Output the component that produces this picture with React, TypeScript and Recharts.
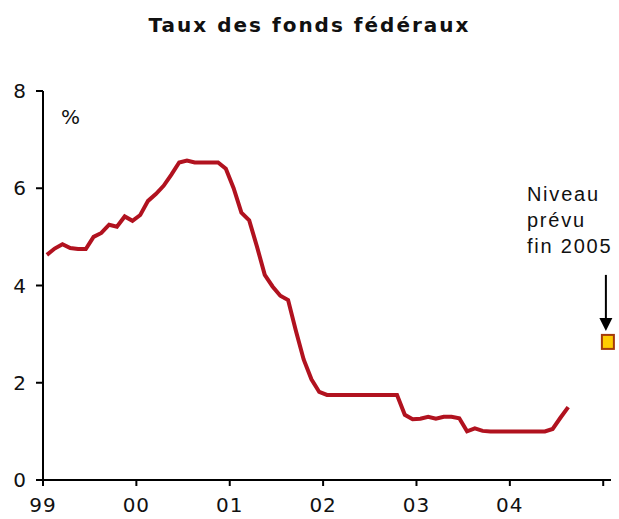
import React from "react"
import { ComposedChart, Line, Scatter, XAxis, YAxis } from "recharts"

// taux mensuels moyens, janvier 1999 -> août 2004
const rates1999 = [4.63, 4.76, 4.85, 4.77, 4.75, 4.75, 5.0, 5.08, 5.25, 5.21, 5.42, 5.33]
const rates2000 = [5.45, 5.74, 5.88, 6.05, 6.28, 6.53, 6.57, 6.53, 6.53, 6.53, 6.53, 6.4]
const rates2001 = [6.0, 5.5, 5.34, 4.8, 4.22, 3.98, 3.79, 3.7, 3.07, 2.48, 2.07, 1.81]
const rates2002 = [1.75, 1.75, 1.75, 1.75, 1.75, 1.75, 1.75, 1.75, 1.75, 1.75, 1.34, 1.25]
const rates2003 = [1.26, 1.3, 1.26, 1.3, 1.3, 1.27, 1.0, 1.06, 1.01, 1.0, 1.0, 1.0]
const rates2004 = [1.0, 1.0, 1.0, 1.0, 1.0, 1.05, 1.28, 1.5]

const yearLabels = ["99", "00", "01", "02", "03", "04", ""]
const yearTicks = [0, 12, 24, 36, 48, 60, 72]
const yTicks = [0, 2, 4, 6, 8]

// niveau prévu fin 2005
const forecast = [{ m: 72.6, rate: 2.84 }]

const allRates = [...rates1999, ...rates2000, ...rates2001, ...rates2002, ...rates2003, ...rates2004]
const data = allRates.map((rate, i) => ({ m: i + 0.5, rate }))

const font = "DejaVu Sans, Verdana, sans-serif"

const ForecastMark = (props: any) => {
  const { cx, cy } = props
  const ax = cx - 2
  return (
    <g>
      <text fontFamily="Liberation Sans, Arial, sans-serif" fontSize={20} letterSpacing={1.8} fill="#111">
        <tspan x={cx - 81} y={cy - 141}>Niveau</tspan>
        <tspan x={cx - 81} y={cy - 115}>prévu</tspan>
        <tspan x={cx - 81} y={cy - 89}>fin 2005</tspan>
      </text>
      <line x1={ax} y1={cy - 67} x2={ax} y2={cy - 22} stroke="#000" strokeWidth={2} />
      <polygon points={`${ax - 6.5},${cy - 24} ${ax + 6.5},${cy - 24} ${ax},${cy - 11}`} fill="#000" />
      <rect x={cx - 6} y={cy - 7} width={12} height={14} fill="#FFCC00" stroke="#A33A0B" strokeWidth={2} />
    </g>
  )
}

export default function App() {
  return (
    <div style={{ position: "relative", width: 619, height: 519, background: "#fff" }}>
      <style>{`body{margin:0}`}</style>
      <div
        style={{
          position: "absolute", top: 13, left: 0, width: 619, textAlign: "center",
          fontFamily: font, fontWeight: "bold", fontSize: 20, letterSpacing: 2, color: "#111"
        }}
      >
        Taux des fonds fédéraux
      </div>
      <div style={{ position: "absolute", top: 105, left: 61, fontFamily: font, fontSize: 20, color: "#111" }}>
        %
      </div>
      <ComposedChart width={619} height={519} data={data} margin={{ top: 91, right: 8, bottom: 0, left: 0 }}>
        <XAxis
          dataKey="m"
          type="number"
          domain={[0, 73]}
          ticks={yearTicks}
          tickFormatter={(v: number) => yearLabels[yearTicks.indexOf(v)]}
          tickSize={6}
          tickMargin={12}
          height={39}
          stroke="#000"
          strokeWidth={2}
          tick={{ fill: "#111", fontSize: 20, fontFamily: font, letterSpacing: 1 }}
        />
        <YAxis
          type="number"
          domain={[0, 8]}
          ticks={yTicks}
          tickSize={7}
          tickMargin={10}
          width={43}
          stroke="#000"
          strokeWidth={2}
          tick={{ fill: "#111", fontSize: 20, fontFamily: font }}
        />
        <Line
          dataKey="rate"
          type="linear"
          stroke="#B1121F"
          strokeWidth={4}
          dot={false}
          isAnimationActive={false}
        />
        <Scatter data={forecast} dataKey="rate" shape={ForecastMark} isAnimationActive={false} />
      </ComposedChart>
    </div>
  )
}
